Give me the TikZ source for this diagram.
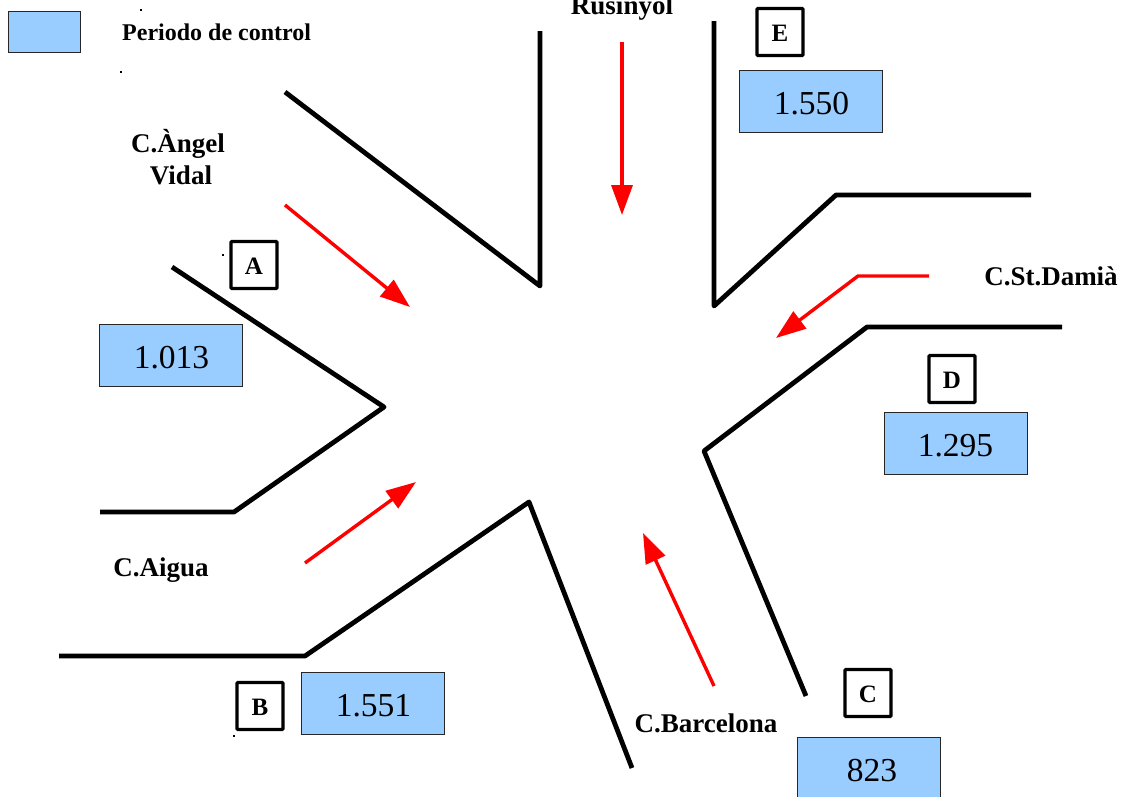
\documentclass[tikz,border=0pt]{standalone}
\usepackage{fontspec}
\setmainfont{Liberation Serif}
\usetikzlibrary{arrows.meta}
\definecolor{boxblue}{HTML}{99CCFF}
\newcommand{\nudged}[2]{\raisebox{-#1pt}[\height][\depth]{#2}}
\tikzset{
  x=1pt,y=-1pt,
  wall/.style={draw=black,line width=4.8pt,line join=round,line cap=butt},
  flow/.style={draw=red,line width=3.4pt,-{Triangle[length=30pt,width=21pt]}},
  valbox/.style={draw=black!85,line width=1pt,fill=boxblue,minimum width=143pt,minimum height=62pt,inner sep=0pt,font=\fontsize{33.5}{33.5}\selectfont},
  letterbox/.style={draw=black,line width=3.4pt,fill=white,rounded corners=1pt,minimum width=46pt,minimum height=47pt,inner sep=0pt,font=\fontsize{25}{25}\selectfont\bfseries},
  streetlabel/.style={inner sep=0pt,font=\fontsize{27}{32}\selectfont\bfseries,align=center},
  speck/.style={fill=black,inner sep=0pt,minimum size=1.5pt}
}
\begin{document}
\begin{tikzpicture}
\useasboundingbox (0,0) rectangle (1125,796);
\clip (0,0) rectangle (1125,796);
\fill[white] (0,0) rectangle (1125,796);
% walls
\draw[wall] (285,92) -- (540,286) -- (540,31);
\draw[wall] (714,21) -- (714,306) -- (836,195) -- (1031,195);
\draw[wall] (1062,327) -- (867,327) -- (704,451) -- (806,696);
\draw[wall] (632,768) -- (529,502) -- (305,656) -- (59,656);
\draw[wall] (100,512) -- (234,512) -- (384,407) -- (172,267);
% legend
\node[valbox,minimum width=72pt,minimum height=41pt] (legend) at (44,31.5) {};
\node[inner sep=0pt,anchor=west,font=\fontsize{24}{24}\selectfont\bfseries] (legendtext) at (122,32) {Periodo de control};
% value boxes
\node[valbox] (va) at (170.5,355.5) {\hspace*{2pt}\nudged{2.5}{1.013}};
\node[valbox] (vb) at (372.5,703) {\hspace*{2pt}\nudged{2.5}{1.551}};
\node[valbox] (vc) at (869,768) {\hspace*{6pt}\nudged{2.5}{823}};
\node[valbox] (vd) at (955.5,443) {\nudged{2.5}{1.295}};
\node[valbox] (ve) at (810.5,101.5) {\hspace*{2pt}\nudged{2.5}{1.550}};
% letter boxes
\node[letterbox] (la) at (254,265) {\nudged{1}{A}};
\node[letterbox] (lb) at (260,706) {\nudged{1}{B}};
\node[letterbox] (lc) at (868,693) {\nudged{1}{C}};
\node[letterbox] (ld) at (952,379) {\nudged{1}{D}};
\node[letterbox] (le) at (780,32) {\nudged{1}{E}};
% street labels
\node[streetlabel] (s1) at (178,157) {C.Àngel\\\hspace*{6pt}Vidal};
\node[streetlabel] (s2) at (161,570) {C.Aigua};
\node[streetlabel] (s3) at (706,723) {C.Barcelona};
\node[streetlabel] (s4) at (1051,276) {C.St.Damià};
\node[streetlabel] (s5) at (622,8) {Rusinyol};
% flows
\coordinate (f1a) at (285,205); \coordinate (f1b) at (410,307);
\coordinate (f2a) at (305,563); \coordinate (f2b) at (416,482);
\coordinate (f3a) at (714,686); \coordinate (f3b) at (643,533);
\coordinate (f4a) at (929,276); \coordinate (f4m) at (858,276); \coordinate (f4b) at (776,338);
\coordinate (f5a) at (622,42); \coordinate (f5b) at (622,215);
\draw[flow] (f1a) -- (f1b);
\draw[flow] (f2a) -- (f2b);
\draw[flow] (f3a) -- (f3b);
\draw[flow] (f4a) -- (f4m) -- (f4b);
\draw[flow] (f5a) -- (f5b);
% specks
\node[speck] at (141,10) {};
\node[speck] at (121,72) {};
\node[speck] at (223,255) {};
\node[speck] at (234,736) {};
\end{tikzpicture}
\end{document}
